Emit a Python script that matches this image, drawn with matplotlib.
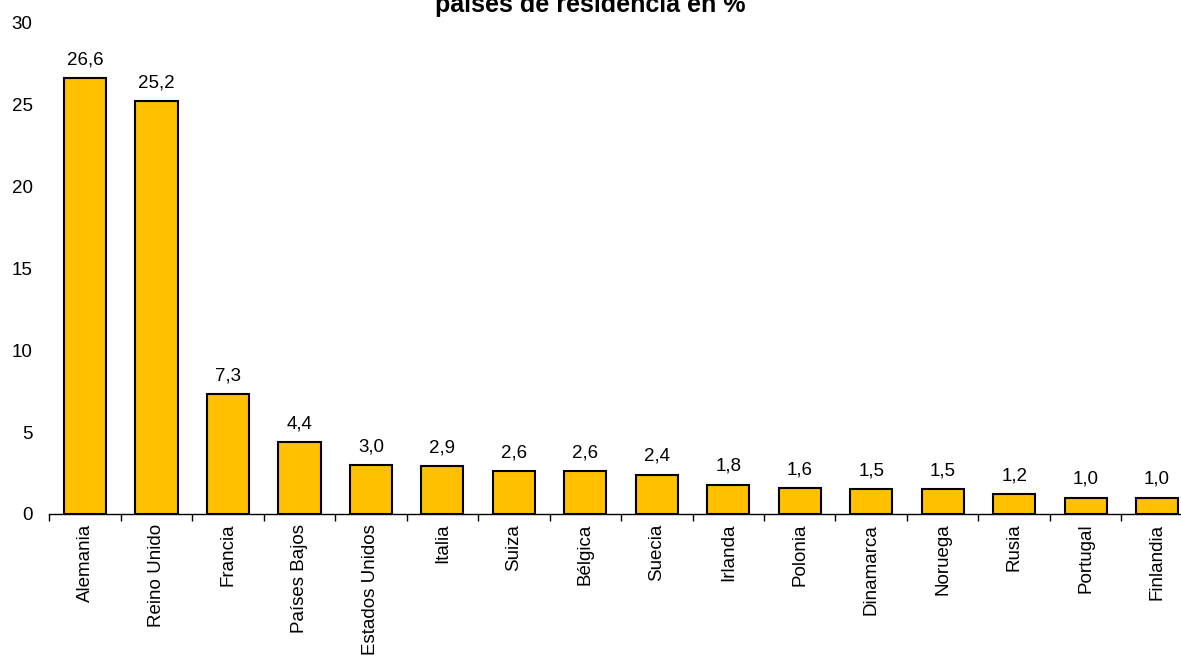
import matplotlib.pyplot as plt
import numpy as np

plt.rcParams['font.family'] = ['Liberation Sans', 'DejaVu Sans']

# paises de residencia
paises = ['Alemania', 'Reino Unido', 'Francia', 'Países Bajos', 'Estados Unidos',
          'Italia', 'Suiza', 'Bélgica', 'Suecia', 'Irlanda', 'Polonia',
          'Dinamarca', 'Noruega', 'Rusia', 'Portugal', 'Finlandia']
porcentaje = [26.6, 25.2, 7.3, 4.4, 3.0, 2.9, 2.6, 2.6, 2.4, 1.8, 1.6,
              1.5, 1.5, 1.2, 1.0, 1.0]
yticks = [0, 5, 10, 15, 20, 25, 30]

fig = plt.figure(figsize=(11.81, 6.57), dpi=100)
# axes runs a little past the right edge, as in the original
ax = fig.add_axes([49.3/1181, 1 - 514/657, 1143.5/1181, (514 - 22.6)/657])

x = np.arange(len(paises))
bars = ax.bar(x, porcentaje, width=0.59, color='#FFC000', edgecolor='black', linewidth=1.5)

for xi, v in zip(x, porcentaje):
    ax.annotate(('%.1f' % v).replace('.', ','), (xi, v), xytext=(0, 7),
                textcoords='offset points', ha='center', va='bottom', fontsize=13.5)

ax.set_xlim(-0.5, len(paises) - 0.5)
ax.set_ylim(0, 30)
ax.set_yticks(yticks)
ax.set_yticklabels([str(t) for t in yticks], fontsize=13.5)
ax.tick_params(axis='y', length=0, pad=12)

ax.set_xticks(x)
ax.set_xticklabels(paises, rotation=90, fontsize=13.5)
ax.tick_params(axis='x', which='major', length=0, pad=7)
ax.set_xticks(np.arange(-0.5, len(paises)), minor=True)
ax.tick_params(axis='x', which='minor', length=5, width=1, direction='out')

for s in ['top', 'right', 'left']:
    ax.spines[s].set_visible(False)
ax.spines['bottom'].set_linewidth(1)

fig.text(0.5, 1 - 12/657, 'Distribución de turistas extranjeros según\npaíses de residencia en %',
         ha='center', va='baseline', fontsize=18, fontweight='bold')

fig.savefig('out.png', dpi=100)
